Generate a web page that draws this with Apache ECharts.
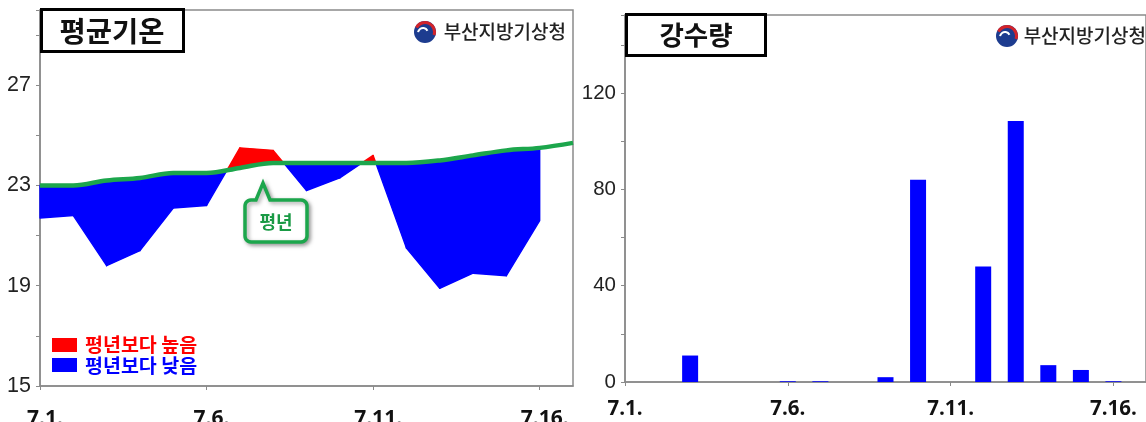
<!DOCTYPE html>
<html><head><meta charset="utf-8">
<script src="https://cdn.jsdelivr.net/npm/echarts/dist/echarts.min.js"></script>
<style>html,body{margin:0;padding:0;background:#fff}#c{width:1146px;height:422px}</style>
</head><body><div id="c"></div>
<script>
// ---- data ----
const days = ['7.1.','7.2.','7.3.','7.4.','7.5.','7.6.','7.7.','7.8.','7.9.','7.10.','7.11.','7.12.','7.13.','7.14.','7.15.','7.16.','7.17.'];
const tempActual = [21.7, 21.8, 19.8, 20.4, 22.1, 22.2, 24.5, 24.4, 22.8, 23.3, 24.2, 20.5, 18.9, 19.5, 19.4, 21.6];
const tempNormal = [23.0, 23.0, 23.2, 23.3, 23.5, 23.5, 23.7, 23.9, 23.9, 23.9, 23.9, 23.9, 24.0, 24.2, 24.4, 24.5, 24.7];
const rainfall = [0, 0, 11, 0, 0, 0.3, 0.3, 0, 2, 84, 0, 48, 108.5, 7, 5, 0.3, null];
const tempTickLabels = [15, 19, 23, 27];
const rainTickLabels = [0, 40, 80, 120];
const tempTitle = '평균기온';
const rainTitle = '강수량';
const agency = '부산지방기상청';
const legendAbove = '평년보다 높음';
const legendBelow = '평년보다 낮음';
const normalLabel = '평년';

const RED = '#ff0000', BLUE = '#0000ff', GREEN = '#1ca64c', GRAY = '#8a8a8a';

const segs = tempActual.slice(0, -1).map((a, i) => [i, a, tempNormal[i], tempActual[i + 1], tempNormal[i + 1]]);

function poly(points, color) {
  return { type: 'polygon', shape: { points }, style: { fill: color, stroke: color, lineWidth: 1.4, lineJoin: 'round' } };
}
function renderDiff(params, api) {
  const i = api.value(0);
  const a0 = api.value(1), n0 = api.value(2), a1 = api.value(3), n1 = api.value(4);
  const pA0 = api.coord([i, a0]), pN0 = api.coord([i, n0]);
  const pA1 = api.coord([i + 1, a1]), pN1 = api.coord([i + 1, n1]);
  const d0 = a0 - n0, d1 = a1 - n1;
  const children = [];
  if (d0 * d1 >= 0) {
    const s = (d0 + d1) >= 0 ? RED : BLUE;
    children.push(poly([pA0, pA1, pN1, pN0], s));
  } else {
    const t = d0 / (d0 - d1);
    const pc = [pA0[0] + t * (pA1[0] - pA0[0]), pA0[1] + t * (pA1[1] - pA0[1])];
    children.push(poly([pA0, pc, pN0], d0 > 0 ? RED : BLUE));
    children.push(poly([pc, pA1, pN1], d1 > 0 ? RED : BLUE));
  }
  return { type: 'group', children };
}

function calloutPoints(x0, y0, x1, y1, r, px0, px1, tipX, tipY) {
  const pts = [];
  const corner = (cx, cy, a0, a1) => {
    for (let k = 0; k <= 6; k++) {
      const a = a0 + (a1 - a0) * k / 6;
      pts.push([cx + r * Math.cos(a), cy + r * Math.sin(a)]);
    }
  };
  corner(x0 + r, y0 + r, Math.PI, Math.PI * 1.5);
  pts.push([px0, y0], [tipX, tipY], [px1, y0]);
  corner(x1 - r, y0 + r, Math.PI * 1.5, Math.PI * 2);
  corner(x1 - r, y1 - r, 0, Math.PI * 0.5);
  corner(x0 + r, y1 - r, Math.PI * 0.5, Math.PI);
  return pts;
}

function logo(cx, cy, tx, ty) {
  return [
    { type: 'circle', shape: { cx, cy, r: 11 }, style: { fill: '#1d3c8f' }, z: 10 },
    { type: 'arc', shape: { cx, cy, r: 9.5, startAngle: -Math.PI * 0.85, endAngle: Math.PI * 0.1 }, style: { stroke: '#d2232a', lineWidth: 3, fill: null }, z: 11 },
    { type: 'arc', shape: { cx: cx - 2, cy: cy + 1, r: 5, startAngle: -Math.PI * 0.95, endAngle: -Math.PI * 0.15 }, style: { stroke: '#fff', lineWidth: 2, fill: null }, z: 12 },
    { type: 'text', x: tx, y: ty, style: { text: agency, fill: '#222', font: '500 19px "Noto Sans CJK KR"', align: 'right', verticalAlign: 'middle' }, z: 10 }
  ];
}

const axisLineStyle = { lineStyle: { color: GRAY, width: 1.5 } };

const option = {
  animation: false,
  grid: [
    { left: 40, top: 10, width: 533, height: 376, show: true, borderColor: GRAY, borderWidth: 1.5, containLabel: false, outerBoundsMode: 'none' },
    { left: 625, top: 15, width: 521, height: 367, show: true, borderColor: GRAY, borderWidth: 1.5, containLabel: false, outerBoundsMode: 'none' }
  ],
  xAxis: [
    { type: 'category', gridIndex: 0, data: days, boundaryGap: false,
      axisLine: axisLineStyle, axisTick: { interval: 4, length: 4, lineStyle: { color: GRAY } },
      axisLabel: { interval: 4, margin: 23, color: '#111', fontSize: 21, fontWeight: 'bold', fontFamily: 'Open Sans', padding: [0, 0, 0, 10] },
      splitLine: { show: false } },
    { type: 'category', gridIndex: 1, data: days, boundaryGap: false,
      axisLine: axisLineStyle, axisTick: { interval: 4, length: 4, lineStyle: { color: GRAY } },
      axisLabel: { interval: 4, margin: 17, color: '#111', fontSize: 20.5, fontWeight: 'bold', fontFamily: 'Open Sans' },
      splitLine: { show: false } }
  ],
  yAxis: [
    { type: 'value', gridIndex: 0, min: 15, max: 30, interval: 2,
      axisLine: { show: true, lineStyle: { color: GRAY, width: 1.5 } }, axisTick: { show: true, length: 4, lineStyle: { color: GRAY } },
      splitLine: { show: false },
      axisLabel: { margin: 9, color: '#222', fontSize: 21.5, fontFamily: 'Liberation Sans',
        formatter: v => tempTickLabels.includes(v) ? String(v) : '' } },
    { type: 'value', gridIndex: 1, min: 0, max: 152.5, interval: 20,
      axisLine: { show: true, lineStyle: { color: GRAY, width: 1.5 } }, axisTick: { show: true, length: 4, lineStyle: { color: GRAY } },
      splitLine: { show: false },
      axisLabel: { margin: 9, color: '#222', fontSize: 20.5, fontFamily: 'Liberation Sans',
        formatter: v => rainTickLabels.includes(v) ? String(v) : '' } }
  ],
  series: [
    { type: 'custom', name: 'diff', xAxisIndex: 0, yAxisIndex: 0, data: segs, renderItem: renderDiff,
      encode: { x: 0, y: [1, 2, 3, 4] }, z: 2, silent: true },
    { type: 'line', name: 'normal', xAxisIndex: 0, yAxisIndex: 0, data: tempNormal, smooth: 0.35,
      showSymbol: false, lineStyle: { color: GREEN, width: 4.5 }, z: 3 },
    { type: 'bar', name: 'rain', xAxisIndex: 1, yAxisIndex: 1, data: rainfall, barWidth: 16,
      itemStyle: { color: BLUE }, z: 2 }
  ],
  graphic: [
    { type: 'rect', shape: { x: 41.5, y: 9.5, width: 142, height: 42 }, style: { fill: '#fff', stroke: '#000', lineWidth: 3 }, z: 20 },
    { type: 'text', x: 112, y: 31, style: { text: tempTitle, fill: '#111', font: 'bold 28.5px "Noto Sans CJK KR"', align: 'center', verticalAlign: 'middle' }, z: 21 },
    { type: 'rect', shape: { x: 626.5, y: 14.5, width: 139, height: 41 }, style: { fill: '#fff', stroke: '#000', lineWidth: 3 }, z: 20 },
    { type: 'text', x: 696, y: 35, style: { text: rainTitle, fill: '#111', font: 'bold 26.5px "Noto Sans CJK KR"', align: 'center', verticalAlign: 'middle' }, z: 21 },
    ...logo(425, 32, 566, 32),
    ...logo(1007, 36, 1146, 36),
    { type: 'rect', shape: { x: 52, y: 338, width: 25, height: 14 }, style: { fill: RED }, z: 20 },
    { type: 'text', x: 85, y: 345, style: { text: legendAbove, fill: RED, font: 'bold 19.5px "Noto Sans CJK KR"', verticalAlign: 'middle' }, z: 20 },
    { type: 'rect', shape: { x: 52, y: 358, width: 25, height: 14 }, style: { fill: BLUE }, z: 20 },
    { type: 'text', x: 85, y: 366, style: { text: legendBelow, fill: BLUE, font: 'bold 19.5px "Noto Sans CJK KR"', verticalAlign: 'middle' }, z: 20 },
    { type: 'polygon', shape: { points: calloutPoints(245, 200, 307, 242, 6, 256, 270, 263, 183) },
      style: { fill: '#fff', stroke: GREEN, lineWidth: 3.5, shadowBlur: 4, shadowColor: 'rgba(0,0,0,0.35)', shadowOffsetX: 2, shadowOffsetY: 2 }, z: 20 },
    { type: 'text', x: 276, y: 222, style: { text: normalLabel, fill: '#1a9a45', font: 'bold 18px "Noto Sans CJK KR"', align: 'center', verticalAlign: 'middle' }, z: 21 }
  ]
};
const chart = echarts.init(document.getElementById('c'), null, { renderer: 'canvas' });
chart.setOption(option);
</script></body></html>
